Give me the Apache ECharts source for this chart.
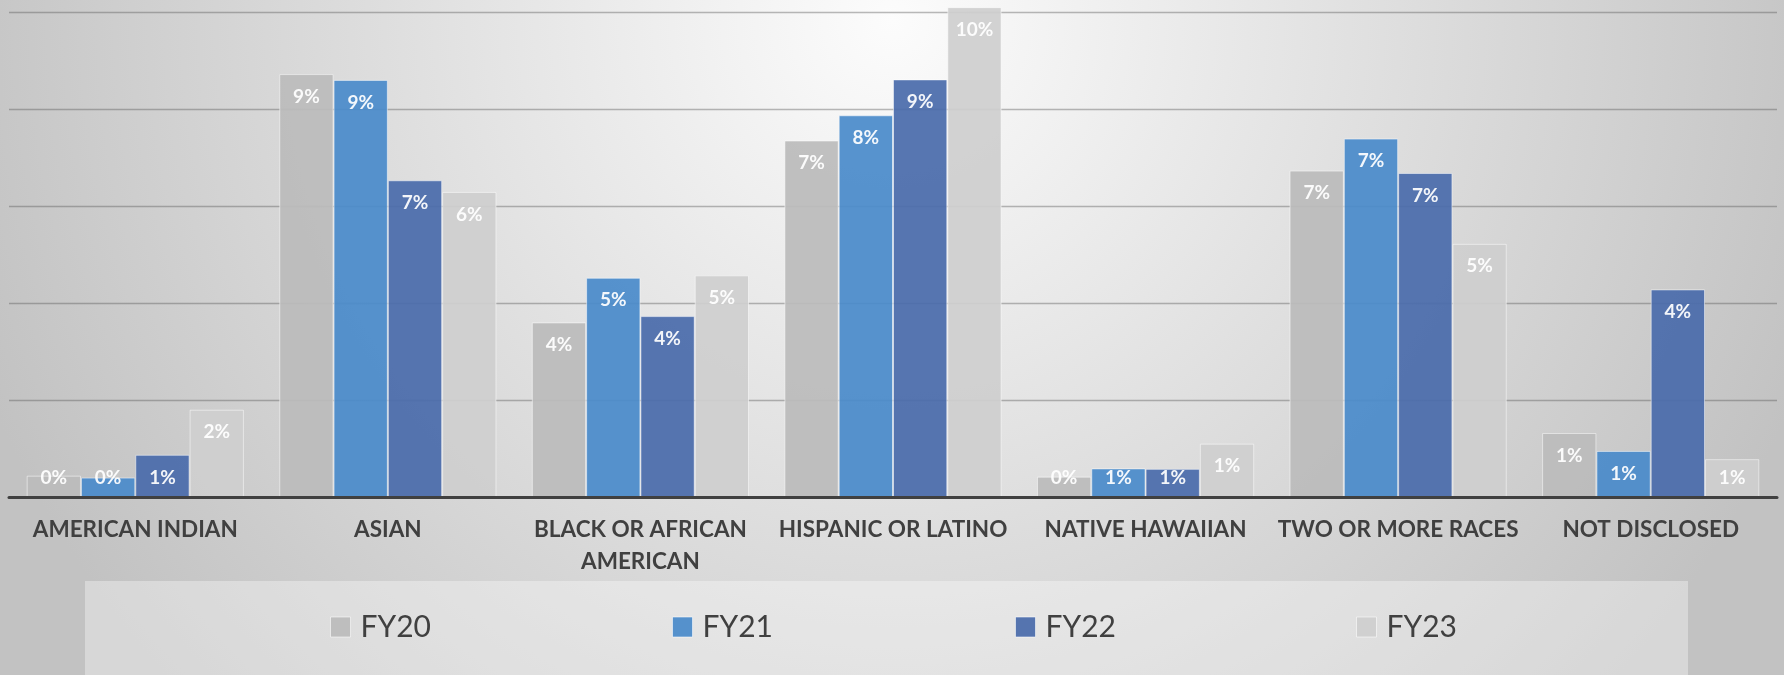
<!DOCTYPE html>
<html>
<head>
<meta charset="utf-8">
<script src="https://cdn.jsdelivr.net/npm/echarts@6/dist/echarts.min.js"></script>
<style>
html,body{margin:0;padding:0;width:1784px;height:675px;overflow:hidden;}
#chart{width:1784px;height:675px;}
</style>
</head>
<body>
<div id="chart"></div>
<script>
const categories = ["AMERICAN INDIAN", "ASIAN", "BLACK OR AFRICAN\nAMERICAN", "HISPANIC OR LATINO", "NATIVE HAWAIIAN", "TWO OR MORE RACES", "NOT DISCLOSED"];
const seriesNames = ["FY20", "FY21", "FY22", "FY23"];
const fy20 = [0.44, 8.72, 3.60, 7.35, 0.42, 6.73, 1.32];
const fy21 = [0.40, 8.60, 4.52, 7.87, 0.59, 7.39, 0.95];
const fy22 = [0.87, 6.53, 3.73, 8.61, 0.58, 6.68, 4.28];
const fy23 = [1.80, 6.29, 4.57, 10.10, 1.10, 5.22, 0.78];
const yTicks = [0, 2, 4, 6, 8, 10];

const colors = ["#bbbbbb", "#4a8bca", "#4a6cab", "#cfcfcf"];
const legendLeft = [330, 672, 1015, 1356];
const FONT = "Lato, 'Open Sans', sans-serif";

const allValues = [fy20, fy21, fy22, fy23];

function buildData(vals) {
  return vals.map(v => ({
    value: v,
    label: v < 0.9 ? { position: 'insideBottom', distance: 10 } : { position: 'insideTop', distance: 13 }
  }));
}

const series = seriesNames.map((name, i) => ({
  name: name,
  type: 'bar',
  data: buildData(allValues[i]),
  barGap: '0%',
  barCategoryGap: '14%',
  clip: false,
  itemStyle: {
    color: colors[i],
    opacity: 0.93,
    borderColor: 'rgba(255,255,255,0.55)',
    borderWidth: 1
  },
  label: {
    show: true,
    color: '#ffffff',
    fontFamily: FONT,
    fontWeight: 'bold',
    fontSize: 19,
    formatter: p => Math.round(p.value) + '%'
  },
  emphasis: { disabled: true }
}));

const legends = seriesNames.map((name, i) => ({
  data: [name],
  left: legendLeft[i],
  top: 612,
  padding: 0,
  icon: 'rect',
  itemWidth: 20,
  itemHeight: 20,
  selectedMode: false,
  itemStyle: { borderColor: 'rgba(255,255,255,0.6)', borderWidth: 1 },
  textStyle: {
    fontFamily: FONT,
    fontSize: 30,
    lineHeight: 30,
    color: '#404040',
    padding: [0, 0, 0, 5]
  }
}));

const chart = echarts.init(document.getElementById('chart'), null, { renderer: 'canvas' });
chart.setOption({
  animation: false,
  backgroundColor: {
    type: 'radial', x: 0.5, y: 0.03, r: 1.45,
    colorStops: [
      { offset: 0, color: '#fcfcfc' },
      { offset: 0.45, color: '#e2e2e2' },
      { offset: 1, color: '#c2c2c2' }
    ]
  },
  graphic: [{
    type: 'rect',
    left: 85, top: 581,
    shape: { width: 1603, height: 100 },
    style: { fill: 'rgba(255,255,255,0.35)' },
    silent: true,
    z: -1
  }],
  grid: { left: 9, right: 7, top: 12, bottom: 178, containLabel: false },
  legend: legends,
  xAxis: {
    type: 'category',
    data: categories,
    z: 10,
    axisLine: { show: true, lineStyle: { color: '#404040', width: 3 } },
    axisTick: { show: false },
    axisLabel: {
      interval: 0,
      margin: 17,
      fontFamily: FONT,
      fontWeight: 'bold',
      fontSize: 22.5,
      lineHeight: 32,
      color: '#404040'
    }
  },
  yAxis: {
    type: 'value',
    min: yTicks[0],
    max: yTicks[yTicks.length - 1],
    interval: yTicks[1] - yTicks[0],
    axisLabel: { show: false },
    axisLine: { show: false },
    axisTick: { show: false },
    splitLine: { show: true, lineStyle: { color: 'rgba(90,90,90,0.42)', width: 1.3 } }
  },
  series: series
});
</script>
</body>
</html>
